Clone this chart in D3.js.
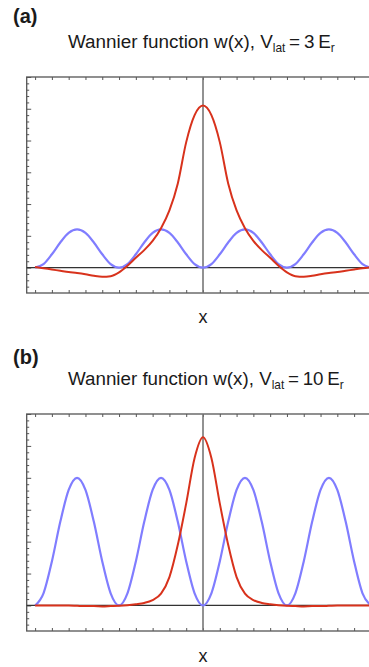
<!DOCTYPE html>
<html>
<head>
<meta charset="utf-8">
<script src="https://cdn.jsdelivr.net/npm/d3@7/dist/d3.min.js"></script>
<style>
  body { margin: 0; background: #fff; }
  svg { display: block; }
  text { font-family: "Liberation Sans", Arial, sans-serif; fill: #1a1a1a; }
</style>
</head>
<body>
<svg id="chart" width="369" height="667"></svg>
<script>
// sample positions, in lattice periods
const xs = [-2.0, -1.9, -1.8, -1.7, -1.6, -1.5, -1.4, -1.3, -1.2, -1.1, -1.0,
            -0.9, -0.8, -0.7, -0.6, -0.5, -0.4, -0.3, -0.2, -0.1, 0.0,
             0.1,  0.2,  0.3,  0.4,  0.5,  0.6,  0.7,  0.8,  0.9, 1.0,
             1.1,  1.2,  1.3,  1.4,  1.5,  1.6,  1.7,  1.8,  1.9, 2.0];

// panel (a), V_lat = 3 E_r
const potentialA = [0, 0.11, 0.42, 0.79, 1.09, 1.20, 1.09, 0.79, 0.42, 0.11, 0,
                    0.11, 0.42, 0.79, 1.09, 1.20, 1.09, 0.79, 0.42, 0.11, 0,
                    0.11, 0.42, 0.79, 1.09, 1.20, 1.09, 0.79, 0.42, 0.11, 0,
                    0.11, 0.42, 0.79, 1.09, 1.20, 1.09, 0.79, 0.42, 0.11, 0];
const wannierA = [0.02, -0.02, -0.06, -0.10, -0.14, -0.17, -0.21, -0.26, -0.29, -0.27, -0.15,
                  0.06, 0.31, 0.55, 0.84, 1.24, 1.80, 2.65, 3.95, 4.80, 5.10,
                  4.80, 3.95, 2.65, 1.80, 1.24, 0.84, 0.55, 0.31, 0.06, -0.15,
                  -0.27, -0.29, -0.26, -0.21, -0.17, -0.14, -0.10, -0.06, -0.02, 0.01];

// panel (b), V_lat = 10 E_r
const potentialB = [0, 0.38, 1.38, 2.62, 3.62, 4.00, 3.62, 2.62, 1.38, 0.38, 0,
                    0.38, 1.38, 2.62, 3.62, 4.00, 3.62, 2.62, 1.38, 0.38, 0,
                    0.38, 1.38, 2.62, 3.62, 4.00, 3.62, 2.62, 1.38, 0.38, 0,
                    0.38, 1.38, 2.62, 3.62, 4.00, 3.62, 2.62, 1.38, 0.38, 0];
const wannierB = [0, 0, 0, 0, 0, -0.01, -0.02, -0.02, -0.03, -0.02, -0.01,
                  0.01, 0.04, 0.08, 0.17, 0.37, 0.89, 1.90, 3.20, 4.62, 5.27,
                  4.62, 3.20, 1.90, 0.89, 0.37, 0.17, 0.08, 0.04, 0.01, -0.01,
                  -0.02, -0.03, -0.02, -0.02, -0.01, 0, 0, 0, 0, 0];

const xTicks = [-2.0, -1.8, -1.6, -1.4, -1.2, -1.0, -0.8, -0.6, -0.4, -0.2, 0,
                0.2, 0.4, 0.6, 0.8, 1.0, 1.2, 1.4, 1.6, 1.8, 2.0];
const yMajor = [0, 1, 2, 3, 4, 5, 6];
const yMinor = [-0.6, -0.4, -0.2, 0.2, 0.4, 0.6, 0.8, 1.2, 1.4, 1.6, 1.8,
                2.2, 2.4, 2.6, 2.8, 3.2, 3.4, 3.6, 3.8, 4.2, 4.4, 4.6, 4.8,
                5.2, 5.4, 5.6, 5.8];

const panels = [
  { tag: "(a)", v: "3", pot: potentialA, wan: wannierA,
    tagY: 23, titleY: 48, titleW: 267, top: 77, bottom: 293, xLabelY: 323 },
  { tag: "(b)", v: "10", pot: potentialB, wan: wannierB,
    tagY: 364, titleY: 385, titleW: 276, top: 414, bottom: 631, xLabelY: 662 }
];

const svg = d3.select("#chart");
const left = 26.7, right = 379.3;

const x = d3.scaleLinear().domain([-2.1, 2.1]).range([left, right]);

panels.forEach(p => {
  const g = svg.append("g");
  const y = d3.scaleLinear().domain([-0.8, 6]).range([p.bottom, p.top]);

  g.append("text")
    .attr("x", 13).attr("y", p.tagY)
    .style("font-size", "20px").style("font-weight", "bold")
    .text(p.tag);

  // title, squeezed to the width it has in the figure
  const t = g.append("text")
    .attr("x", 0).attr("y", 0)
    .style("font-size", "19px");
  t.append("tspan").text("Wannier function w(x),  V");
  t.append("tspan").attr("dy", 4).style("font-size", "12px").text("lat");
  t.append("tspan").attr("dy", -4).text("\u2009=\u2009" + p.v + "\u2009E");
  t.append("tspan").attr("dy", 4).style("font-size", "12px").text("r");
  const w = t.node().getComputedTextLength();
  t.attr("transform", "translate(68," + p.titleY + ") scale(" + (p.titleW / w) + ",1)");

  // frame
  g.append("rect")
    .attr("x", left).attr("y", p.top)
    .attr("width", right - left).attr("height", p.bottom - p.top)
    .attr("fill", "none").attr("stroke", "#555").attr("stroke-width", 1.3);

  // ticks
  const tickStyle = sel => {
    sel.select(".domain").remove();
    sel.selectAll("line").attr("stroke", "#555").attr("stroke-width", 1);
  };
  g.append("g").attr("transform", "translate(0," + p.bottom + ")")
    .call(d3.axisBottom(x).tickValues(xTicks).tickFormat("").tickSize(-3)).call(tickStyle);
  g.append("g").attr("transform", "translate(0," + p.top + ")")
    .call(d3.axisTop(x).tickValues(xTicks).tickFormat("").tickSize(-3)).call(tickStyle);
  g.append("g").attr("transform", "translate(" + left + ",0)")
    .call(d3.axisLeft(y).tickValues(yMajor).tickFormat("").tickSize(-4.5)).call(tickStyle);
  g.append("g").attr("transform", "translate(" + left + ",0)")
    .call(d3.axisLeft(y).tickValues(yMinor).tickFormat("").tickSize(-2.5)).call(tickStyle);

  // axes through the origin
  g.append("line")
    .attr("x1", left).attr("x2", right)
    .attr("y1", y(0)).attr("y2", y(0))
    .attr("stroke", "#333").attr("stroke-width", 1.2);
  g.append("line")
    .attr("x1", x(0)).attr("x2", x(0))
    .attr("y1", p.top).attr("y2", p.bottom)
    .attr("stroke", "#777").attr("stroke-width", 1.6);

  const line = d3.line()
    .curve(d3.curveMonotoneX)
    .x((d, i) => x(xs[i]))
    .y(d => y(d));

  g.append("path")
    .datum(p.pot)
    .attr("fill", "none")
    .attr("stroke", "#807dff")
    .attr("stroke-width", 2.2)
    .attr("d", line);

  g.append("path")
    .datum(p.wan)
    .attr("fill", "none")
    .attr("stroke", "#d8321c")
    .attr("stroke-width", 2)
    .attr("d", line);

  g.append("text")
    .attr("x", x(0)).attr("y", p.xLabelY)
    .attr("text-anchor", "middle")
    .style("font-size", "18px")
    .text("x");
});
</script>
</body>
</html>
